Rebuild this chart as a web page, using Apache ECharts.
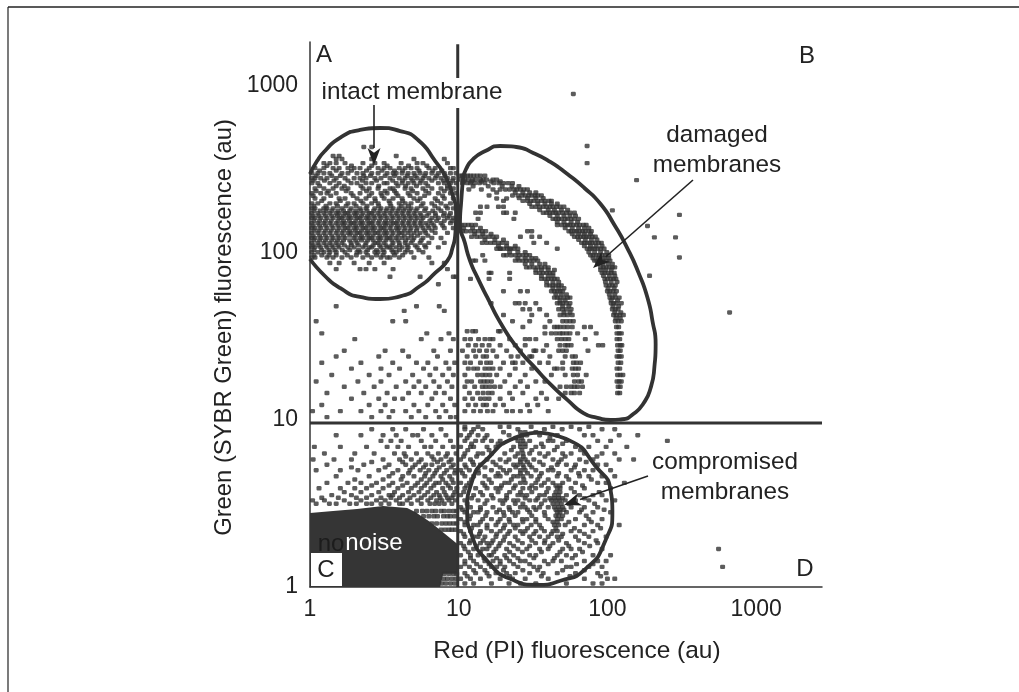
<!DOCTYPE html>
<html><head><meta charset="utf-8">
<style>html,body{margin:0;padding:0;background:#fff}#c{width:1019px;height:692px}</style>
<script src="https://cdn.jsdelivr.net/npm/echarts@6/dist/echarts.min.js"></script>
</head><body><div id="c"></div>
<script>
// Tick labels and axis ranges
const tickLabels = [1, 10, 100, 1000];
const xMax = 2773, yMax = 1833;
// Gate outlines, in fluorescence units [red, green]
const intactGate = [[1,297],[1.115,355],[1.26,408],[1.59,489],[2.17,545],[2.96,560],[4.04,537],[5.33,475],[6.95,355],[8.1,289],[9.05,226],[9.6,171],[9.5,132],[9.05,106],[8.4,90],[6.95,76],[5.5,63.4],[4.04,55],[2.96,53],[2.17,54.5],[1.59,61.7],[1.26,72.8],[1,92]];
const damagedGate = [[10.7,281],[11.2,318],[12.5,365],[15.1,408],[19,437],[24.4,431],[31.7,397],[41.3,351],[53.8,297],[70,245],[89.7,197],[111.5,147],[136,107],[162,76],[186,54],[201,39],[211,28.5],[207,20.8],[195,15.5],[175,12.6],[150,10.9],[126,10.1],[105,10],[85.7,10.3],[69,11],[53.8,13.2],[41.3,16.4],[32.2,20.8],[24.8,27],[19.3,37.6],[15.6,54],[13.5,70],[11.9,90],[11,115],[10.2,149],[10.4,205],[10.7,281]];
const compromisedGate = [[33.8,8.4],[56.3,7.5],[83,5.3],[105,3.8],[108,2.85],[97,1.9],[71,1.28],[48.3,1.09],[33.8,1.03],[22.2,1.12],[15.6,1.43],[12.3,2.02],[11.4,2.85],[12.3,4.3],[16.3,6.1],[22.9,7.7],[33.8,8.4]];
// Threshold lines
const vGateLow = [[9.85,1],[9.85,738]];
const vGateHigh = [[9.85,1117],[9.85,1780]];
const hGate = [[1,9.6],[2773,9.6]];
// Solid noise block outline
const noiseOutline = [[1,2.77],[1.43,2.85],[2.07,2.93],[3.1,3.05],[4.5,2.97],[5.1,2.81],[6.43,2.45],[8.1,2.08],[9.8,1.81],[9.8,1.2],[7.87,1.2],[7.5,1],[1,1]];
// Events, one row per green level: [green, [red, red, ...]]
const intactRows = [
[431,[2.3,2.6]],[381,[3.8,1.43,1.57]],[365,[1.5,1.64,2.6,5,8]],
[345,[1.24,1.36,1.5,1.72,2.27,2.73,3.15,4.1,5.25,5.75,8.4]],
[322,[1.08,1.24,1.43,1.57,1.8,1.98,2.17,2.5,2.87,3.15,3.45,3.98,4.36,4.78,5.25,6.3,6.95,8.8,9.2]],
[300,[1.03,1.13,1.24,1.36,1.64,1.8,2.07,2.27,2.6,2.87,3.3,3.62,3.8,4.16,4.57,5,5.5,6,6.6,7.3,8,8.8,9.6]],
[280,[1.03,1.08,1.18,1.3,1.5,1.72,1.98,2.17,2.38,2.73,3,3.45,3.98,4.36,4.78,5.25,5.75,6.3,6.95,7.6,8.4,9.2]],
[262,[1.03,1.13,1.36,1.57,1.89,2.07,2.38,2.6,3.15,3.3,3.8,4.16,4.57,5,5.5,6,7.3,8,8.8,9.6]],
[243,[1.08,1.24,1.43,1.64,1.8,2.27,2.5,2.87,3.45,3.62,4.36,4.78,5.75,6.6,7.6,8.4,9.2]],
[228,[1.03,1.18,1.3,1.5,1.89,2.17,2.6,3,3.3,3.8,4.57,5.25,6.3,7.3,8.8,9.6]],
[212,[1.08,1.24,1.57,1.72,2.07,2.38,2.73,3.15,3.62,4.16,5,5.5,6.95,8,9.2]],
[198,[1.03,1.13,1.36,1.5,1.8,1.98,2.27,2.6,2.87,3.45,3.98,4.36,4.78,5.75,6.6,7.6,8.8]],
[185,[1.03,1.08,1.24,1.3,1.43,1.64,1.89,2.17,2.38,2.73,3,3.3,3.62,3.98,4.36,4.78,5.25,6,7.3,8.4,9.2]],
[173,[1.03,1.13,1.24,1.36,1.5,1.57,1.72,1.8,1.98,2.07,2.27,2.5,2.6,2.87,3.15,3.45,3.8,4.16,4.57,5,5.5,6.3,6.95,8,8.8]],
[162,[1.03,1.08,1.18,1.3,1.43,1.57,1.64,1.8,1.89,2.07,2.17,2.38,2.5,2.73,3,3.3,3.62,3.98,4.36,4.78,5.25,5.75,6.6,7.3,8.4,9.2]],
[151,[1.03,1.13,1.24,1.36,1.5,1.64,1.72,1.89,1.98,2.17,2.27,2.5,2.6,2.87,3.15,3.3,3.62,3.8,4.16,4.57,5,5.5,6,6.6,7.6,8.8,9.6]],
[141,[1.03,1.08,1.18,1.3,1.43,1.57,1.72,1.8,1.98,2.07,2.27,2.38,2.6,2.73,3,3.15,3.45,3.8,3.98,4.36,4.78,5.25,5.75,6.3,6.95,8,9.2]],
[132,[1.03,1.13,1.24,1.36,1.5,1.64,1.8,1.89,2.07,2.17,2.38,2.5,2.73,2.87,3.15,3.3,3.62,3.98,4.16,4.57,5,5.5,6,6.95,8.4]],
[123,[1.03,1.08,1.18,1.3,1.43,1.57,1.72,1.98,2.17,2.27,2.5,2.6,2.87,3,3.3,3.45,3.8,4.16,4.57,5,5.75,6.6,7.6]],
[115,[1.03,1.13,1.24,1.36,1.5,1.64,1.89,2.07,2.38,2.73,2.87,3.15,3.62,3.98,4.36,4.78,5.5,6.3,8]],
[108,[1.03,1.08,1.18,1.3,1.43,1.57,1.8,1.98,2.27,2.5,2.6,3,3.3,3.45,3.8,4.16,4.57,5.25,6,7.3]],
[101,[1.03,1.13,1.24,1.36,1.5,1.72,2.07,2.17,2.38,2.73,2.87,3.15,3.62,3.8,4.36,4.78,5.75]],
[94,[1.03,1.08,1.3,1.43,1.64,1.89,2.27,2.6,3,3.3,3.45,3.98,5,6.3]],
[87,[1.36,1.57,1.98,2.5,3.15,6.6,8]],
[80,[1.5,2.17,2.38,2.73,3.62,8.4]],
[72,[3.45,5.5,9.2,9.6]],[65,[7.3]]
];
const intactFillRows = [
[333,[1.3,1.9,2.6,3.3,4.6,6.1]],[311,[1.16,1.5,1.9,2.4,3.05,3.7,4.2,5.4,6.7,7.7]],[290,[1.1,1.4,1.6,2.3,2.55,3.2,3.7,4.5,5.1,5.9,7.1,8.1]],
[271,[1.05,1.25,1.45,1.8,2.25,2.8,3.6,4.2,4.9,5.6,6.6,7.9,9.1]],[252,[1.16,1.5,1.7,2.2,2.9,3.9,4.4,5.2,6.2,8.4]],[235,[1.1,1.33,1.75,2.4,3.2,3.7,4.9,6,8]],
[220,[1.05,1.38,1.95,2.5,3.05,3.9,4.7,5.9,7.8]],[205,[1.2,1.6,2.2,2.75,3.4,4.2,5.3,7.2]],[191,[1.06,1.28,1.53,1.75,2.04,2.42,2.9,3.5,4.1,4.6,5.6,6.9,8.2]],
[179,[1.06,1.17,1.28,1.4,1.54,1.68,1.85,2.03,2.2,2.42,2.68,2.95,3.25,3.55,3.9,4.25,4.66,5.15,5.9,6.7,7.6]],
[167,[1.05,1.15,1.27,1.4,1.53,1.68,1.84,2.02,2.22,2.44,2.68,2.94,3.2,3.55,3.88,4.25,4.66,5.1,5.6,6.1,7,7.9,8.6]],
[156,[1.06,1.16,1.27,1.39,1.54,1.68,1.84,2.03,2.22,2.44,2.66,2.93,3.22,3.52,3.88,4.25,4.66,5.1,5.6,6.4,7.1,8,9]],
[146,[1.05,1.16,1.27,1.4,1.54,1.68,1.85,2.03,2.22,2.44,2.66,2.94,3.22,3.52,3.88,4.25,4.66,5.1,5.6,6.2,6.8,7.8]],
[136,[1.06,1.15,1.27,1.39,1.53,1.68,1.85,2.02,2.22,2.44,2.66,2.94,3.22,3.54,3.88,4.3,4.7,5.2,5.9,6.6]],
[127,[1.05,1.16,1.27,1.4,1.54,1.68,1.85,2.02,2.22,2.44,2.66,2.95,3.22,3.55,3.9,4.3,4.8,5.3,6.2]],
[119,[1.06,1.16,1.27,1.4,1.53,1.68,1.85,2.03,2.22,2.44,2.66,2.94,3.24,3.55,3.9,4.4,4.9,5.6]],
[111,[1.05,1.15,1.28,1.4,1.54,1.7,1.9,2.12,2.35,2.66,2.94,3.24,3.55,4,4.5,5.1,5.9]],
[104,[1.06,1.2,1.34,1.47,1.65,1.85,2.12,2.44,2.8,3.1,3.55,4,4.5,5.4]],[97,[1.06,1.2,1.34,1.5,1.78,2.05,2.44,2.8,3.1,3.7,4.2]]
];
const upperArcRows = [
[290,[10.2,10.6,11,11.5,12,12.6,13.3,14,15]],[275,[10.3,11,11.6,12.4,13,14,14.6,15.4,17,18]],
[262,[10.6,11.4,12,12.8,13.8,15,17.2,18.6,20,21.5,23]],[240,[11.7,14.2,17,19,20.6,22,23.6,24.6,26,27.4,29]],
[221,[16,23,25,26.6,28,29.6,31,32.6,34,36]],[205,[20,27,29,30.5,32,34,36,38,40.5,42]],
[189,[31,33,35,37,39,41,43,45.5,48,51]],[174,[37,39,41,43,45,47,50,53,56,60]],
[160,[43,45,47,49,52,54,57,60,64]],[147,[46,49,52,54,56,59,62,65,69,72]],
[135,[55,57,60,62,65,68,71,75,78]],[125,[60,63,66,69,72,75,79,83]],
[115,[67,70,73,76,79,83,87,91]],[106,[73,76,79,82,86,90,95]],
[97,[77,80,84,88,92,97,102]],[90,[82,85,89,93,98,104]],
[82,[90,94,98,103,108,112]],[76,[92,96,101,106,111]],[70,[96,100,105,110,114]],[64,[98,103,108,113]],
[59,[100,104,109,115]],[54,[104,108,113,120]],[50,[106,110,115,124]],[46,[108,113,118]],
[42.5,[110,115,121,128]],[39,[113,118,124]],[36,[115,119]],[33,[116,120,124]],[30.5,[116,121]],[28,[117,122,125]],
[26,[118,122]],[24,[116,120,124]],[22,[118,123]],[20.3,[116,121]],[18.6,[117,122,127]],[17,[116,120,124]],[15.8,[118,122]],[14.5,[117,121]]
];
const upperArcFillRows = [
[268,[10.8,12.2,14.2,16.5,19]],[251,[12.5,15.8,19.6,22.8,25.4]],[230,[18,24,27,30,33]],[213,[25.5,29,33,37]],[197,[30,34,38,42,46]],
[181,[35,40,44,49,54]],[167,[41,46,51,56,61]],[153,[46,51,57,63]],[141,[52,58,64,70,75]],[130,[58,64,70,77]],[120,[64,71,78,85]],
[110,[70,77,84,92]],[101,[75,82,90,99]],[93,[80,87,95,102]],[86,[86,93,101,108]],[79,[90,97,106]],[73,[94,103,112]],[67,[97,106,116]],
[61.5,[101,111]],[56.5,[103,112]],[52,[106,117]],[48,[109,119]],[44,[112,123]],[40.7,[114,122]]
];
const lowerArcRows = [
[147,[10.4,11,11.6,12.2,13]],[135,[10.6,11.2,12,12.8,13.6,14.4,15.2]],[125,[12.2,13.2,14,15,16,17,18]],
[115,[14.4,15.4,16.4,17.4,18.6,19.6,21]],[106,[18,19,20,21.2,22.4,23.6,25]],[97,[21,22.5,24,25.5,27,28.5,30]],
[90,[24,25.5,27,28.5,30,32,34]],[82,[28.5,30,32,34,36,38,40]],[76,[33,35,37,39,41,43]],[70,[36,38,40,42,44,46]],
[64,[39,41,43,45,47,49]],[59,[42,44,46,48,50]],[54,[44,46,48,51,54,56]],[50,[46,48,50,53,56]],
[46,[47,50,53,57]],[42.5,[48,51,54,58]],[39,[50,53,56,59]],[36,[46,48,51,54,58]],[33,[45,48,50,53,56]],[30.5,[46,49,52,55]],
[28,[48,52,54,57]],[26,[50,53]],[24,[58,61]],[22,[59,62,66]],[20.3,[58,61,64]],[18.6,[59,63]],[17,[60,64,67]],[15.8,[57,60,63,68]],[14.5,[60,65]]
];
const lowerArcFillRows = [
[141,[10.8,12.4,14]],[130,[12.8,14.5,16.5]],[120,[15,17.5,20]],[110,[18.5,21,24]],[101,[22,25,28]],[93,[25,28,31,33]],[86,[28,31,35,38]],
[79,[33,36,40,44]],[73,[36,40,43]],[67,[39,43,47]],[61.5,[43,47,51]],[56.5,[45,49,53]],[52,[48,52]],[48,[50,55]],[44,[51,56]]
];
const bInnerRows = [
[212,[18,21]],[189,[14,15.5,18.5,20]],[174,[13,14,20,21,24]],[160,[13.5,23.5]],[135,[29,31]],[125,[26,31,35]],[115,[32,39]],
[106,[19,22,46]],[97,[14.5,20]],[90,[12.5,13,15]],[76,[16,16.5,22]],[70,[12,16,22]],[59,[20,26,29]],[50,[16.5,24,25.5,28,33]],
[46,[27,30,35]],[42.5,[20,31,39]],[39,[23,30,41]],[36,[27,38,44,70,77]],[33,[38,42,63,84]],[30.5,[28,33,71]],
[28,[39,87,93]],[26,[33,37,47,74]],[24,[31,41,52]],[22,[24,40,50]],[20.3,[44,46,50]],[18.6,[42,52,72]],[15.8,[48,53]],[14.5,[52,57]],[13.4,[47]]
];
const outsideRows = [
[895,[59]],[437,[73]],[345,[73]],[273,[157]],[180,[108]],[169,[305]],[145,[186]],[124,[207,287]],[94,[305]],[73,[192]],[44,[663]]
];
const lowMidRows = [
[34,[11.4,12.4,13,18.5,19]],[30.5,[11,12,13.6,15,16.2,17,22,30]],[28,[11.6,13,14.4,16,19,24,28]],
[26,[10.6,12.6,13.8,15.4,17,21,26,32]],[24,[11.4,13,14.6,15.4,18,22.5,25,30]],[22,[11,12,14,15.4,16.4,20,23,27,35]],
[20.3,[11.6,12.6,13.4,15,16,17,19,24,31]],[18.6,[11,13.4,14.4,15.2,16.2,18,22,28]],[17,[11.4,12.2,14,14.8,15.6,16.6,20.4,26,33,38]],
[15.8,[11,12.8,14.4,15.2,16.2,17.4,19,24,29]],[14.5,[11.8,13.4,14.6,15.8,16.8,22,27,36]],[13.4,[11,12.4,14,15,16,19,23,33,39]],
[12.3,[11.6,13,14.6,15.4,17.6,20,29,34]],[11.3,[11,12.6,14,15.6,17,21,23,26,30,40]]
];
const aLowRows = [
[48,[1.5,5.2,7.4]],[45,[4.3,8]],[39,[1.1,3.6,4.4]],[33,[1.2,6.1,8.6]],[30.5,[2,5.6,7.6,9.2]],[26,[1.7,3.2,4.2,6.8,8.8]],
[24,[1.5,2.9,4.6,7.2]],[22,[1.2,2.2,3.6,5.2,6.2,8.2,9.4]],[20.3,[1.9,3,4,5.8,7,8.6]],[18.6,[1.4,2.5,3.4,4.9,6.4,7.8,9.2]],
[17,[1.1,2.1,3,4.4,5.4,6.8,8.4]],[15.8,[1.7,2.7,3.8,5,6,7.4,9]],[14.5,[1.3,2.3,3.3,4.6,5.6,7,8]],[13.4,[1.9,2.9,3.7,4.2,6.6,8.8]],
[12.3,[1.2,2.5,3.2,5,6.2,7.8,9.4]],[11.3,[1.04,1.6,2.2,3,3.6,4.4,5.4,7,8.2]],[10.4,[1.3,2.6,3.4,4.8,6,7.4,8.8,9.6]]
];
const cRows = [
[8.8,[2.6,3.6,4.4,5.8,7.6]],[8.1,[1.5,2.2,3.1,3.8,4.9,5.3,6.6,8.2]],[7.5,[3,3.5,4.1,5.6,7,8.8]],
[6.9,[1.07,1.6,2.4,3.3,3.9,4.6,5.9,6.5,7.8,9.2]],[6.3,[1.25,2,2.7,3.7,4.3,5.2,6.2,7.3,8.4,9.6]],[5.8,[1.05,1.45,1.9,3.1,4,4.8,5.6,6.8,7.6,8.9]],
[5.4,[1.3,2.3,3.4,4.4,5.1,6,6.6,7.9,9.2]],[5,[1.1,1.6,2.1,2.9,3.9,4.7,5.5,6.3,7.1,8.3,9.5]],[4.6,[1.5,2.5,3.4,4.2,5,5.9,6.7,7.6,8.7]],
[4.2,[1.3,1.8,2.2,2.8,3.6,4.5,5.3,6.1,7,7.4,8.2,9.2]],[3.9,[1.15,1.6,2,2.4,3.1,3.9,4.8,5.6,6.5,7.8,8.8,9.7]],[3.55,[1.4,1.9,2.6,3.4,3.6,4.2,5,5.9,6.8,7.4,8.2,9.2]],
[3.3,[1.04,1.25,1.7,2.2,2.8,3.2,3.8,4.5,5.3,6.2,7.1,7.7,8.6,9.5]],[3.15,[1.1,1.35,1.5,1.85,2.05,2.4,2.6,3,3.4,4,4.2,4.8,5.6,6.4,6.9,7.4,8,9]],
[2.85,[5.2,5.7,6.1,6.6,7,7.6,8,8.6,9.2,9.7]],[2.65,[5.8,6.3,6.8,7.2,7.9,8.4,8.8,9.4]],[2.4,[6.6,7.1,7.7,8.2,8.7,9.2,9.7]],[2.2,[7.6,8.1,8.6,9,9.5]],
[1.2,[8,8.6,9.2,9.7]],[1.12,[7.9,8.4,9,9.6]],[1.05,[7.7,8.2,8.8,9.4]]
];
const cFillRows = [
[6.05,[4.4,6.6,8.2]],[5.6,[2.6,4.2,5.4,7.2,8.6]],[5.2,[1.9,3.2,4.9,5.8,7.4,8.9]],[4.8,[3.6,4.6,6,6.9,8,9.4]],[4.4,[2,3.1,4.1,5.6,6.4,7.8,9]],
[4.05,[2.6,3.4,4.2,5.1,5.9,6.8,8.5]],[3.7,[1.7,2.2,2.9,3.7,4.6,5.4,6.2,7.1,8,9.4]],[3.42,[1.2,1.55,2.05,2.4,3,3.5,4,4.7,5.6,6.5,7.5,8.4,9]]
];
const dRows = [
[9.1,[11,13.5,19,21.8,30.7,43,57,75]],[8.8,[11,12.6,14.5,25,37.7,49.6,65,92,112]],[8.1,[10.3,11.8,13.5,15.5,21.8,26.8,28.7,35,46,70,80,120,160]],
[7.5,[11,13,14.5,16.6,19,25,27,30,40,43,53,86,105,253]],[6.9,[10.3,12,12.6,15.5,17.8,23.4,26,28,33,37,46,61,75,98,135]],[6.3,[11,13.5,14.5,16.6,20.4,25,27,30,35,40,50,57,70,92,112]],
[5.8,[10.3,12,15.5,19,21.8,26,28,32,43,49,65,80,120,150]],[5.4,[11,12.6,14,17.8,23.4,25,27,30,37,46,53,61,86,98]],[5,[10.3,11.8,13.5,16.6,20,22,26,28,33,40,43,57,70,80,105]],
[4.6,[11,12.6,15,17.8,19,23.4,25,27,30.7,35,46,53,65,75,92,112]],[4.2,[10.3,11.8,14.5,16.6,20.4,21.8,26,28,33,37.7,43,50,61,86,98,130]],[3.9,[11,13,15.5,17.8,19,23.4,27,30,32.9,40,46,48,57,70,105]],
[3.55,[10.3,12.6,14.5,16.6,21,25,26.8,28.7,35,37.7,44,47,53,65,80,92]],[3.3,[11,13.5,15.5,19,20.4,23.4,25,30,33,38,42,45,48,52,61,75,98,112]],[3,[10.3,12,14,17,21.8,26,28,32,35,40,44,47,50,57,70,86]],
[2.8,[11,12.6,13.5,15.5,18,20,23,25,30,37.7,46,48,53,65,80,105]],[2.55,[10.3,11.8,14.5,16.6,19,21.8,26.8,28.7,33,40,46,49,61,75,92]],[2.35,[11,12.6,13.5,15.5,17.8,20.4,23.4,25,30.7,35,44,47,52,70,86,120]],
[2.16,[10.3,12,14,16.6,19,22,26,28,33,37.7,43,46,57,65,80]],[2,[11,12.6,13.5,15,17.8,20.4,24,30,35,40,46,49,61,75,98]],[1.83,[10.3,11.8,14,15.5,16.6,19,22,26.8,32.9,37.7,43,53,70,86]],
[1.69,[11,12.6,14.5,15.5,17.8,21,25,28.7,35,40,50,57,65,92,559]],[1.55,[10.3,12,13.5,16,16.6,20.4,23.4,30,33,46,53,61,80,105]],[1.43,[11,12.6,15,17,19,22,26,28,37.7,43,49,70,86,98]],
[1.32,[10.3,11.8,14,16.6,18,20.4,25,32,35,53,57,75,92,595]],[1.21,[11,13,15.5,17.8,21,24,30,37,46,61,86,98]],[1.12,[10.3,12,14,19,23,28,40,70,100,112]],[1.05,[11,12.6,16.6,21.8,26,33,53,80,92]]
];
const dFillRows = [
[8.45,[12.2,20,26,28,33]],[7.8,[11.4,15,24.2,26.5,41]],[7.2,[12.2,18.4,26,28,36,50]],[6.6,[11.5,16,22.6,26.6,31,44,66]],[6.05,[10.8,13.2,24,27.2,38,52,85]],
[5.6,[12.4,17,20.8,26,29,35,47,72]],[5.2,[11.2,15,19,24.2,27.4,31,42,60]],[4.8,[10.6,13.6,18.4,21,26,29,36,47,64]],[4.4,[12.2,16,22.6,27.4,34,40,55,78]],
[4.05,[11.3,15,19.4,24,31,36,45,48,68]],[3.7,[10.8,14,18.4,22,26,31,39,45,48,60,88]],[3.4,[12.2,17,21,28,34,41,44,47,50,70]],[3.15,[11.4,15,19.8,24,27,36,43,46,49,55,82]],
[2.9,[10.6,14,18.8,22,29,33,45,48,51,67,95]],[2.67,[12,15.2,20.2,24,31,38,45,47,50,72]],[2.45,[11,14,18.4,22,27,33,43,46,55,78]],[2.25,[12.2,15.5,20,24,29,36,45,60,90]],
[2.08,[10.8,13.8,18,21.4,27,32,42,50,70]],[1.9,[12,14.6,17,20,25,31,38,47,64,84]],[1.76,[10.8,13.2,16,18.6,23.4,30,41,55,76]],[1.62,[11.6,14,17.2,22,26.8,36,48,68]],
[1.49,[12,14.8,18,21,25,32,44,58]],[1.37,[11,13.2,16,19,23.4,30,40,62,80]],[1.26,[12.6,15,20,27,34,50,70]],[1.16,[11.4,16,22,36,56,90]]
];

const flatten = rows => rows.flatMap(([green, reds]) => reds.map(red => [red, green]));
const ink = '#333';
const dots = (name, rows) => ({name, type:'scatter', data:flatten(rows), symbol:'roundRect', symbolSize:[5,4.4], itemStyle:{color:ink}, silent:true, z:2, large:false});
const stroke = (name, data, width, smooth) => ({name, type:'line', data, symbol:'none', smooth:smooth||false, lineStyle:{color:ink, width}, silent:true, z:3});

const chart = echarts.init(document.getElementById('c'), null, {renderer:'canvas'});
const axisBase = {
  type:'log', logBase:10, min:1, nameLocation:'middle',
  axisLine:{show:true, onZero:false, lineStyle:{color:'#333', width:1.5}},
  axisTick:{show:false}, splitLine:{show:false}, minorSplitLine:{show:false},
};
const labelOf = v => tickLabels.includes(Math.round(v)) && Math.abs(Math.round(v)-v)<1e-6 ? String(Math.round(v)) : '';
chart.setOption({
  animation:false, backgroundColor:'#fff',
  grid:{left:310, top:42, width:512, height:545, containLabel:false},
  xAxis:Object.assign({}, axisBase, {max:xMax, name:'Red (PI) fluorescence (au)', nameGap:52,
    nameTextStyle:{color:'#222', fontSize:24.5, fontFamily:'Liberation Sans', padding:[0,0,0,22]},
    axisLabel:{color:'#222', fontSize:23, fontFamily:'Liberation Sans', margin:11, formatter:labelOf, showMaxLabel:false}}),
  yAxis:Object.assign({}, axisBase, {max:yMax, name:'Green (SYBR Green) fluorescence (au)', nameGap:74,
    nameTextStyle:{color:'#222', fontSize:23.8, fontFamily:'Liberation Sans', padding:[0,26,0,0]},
    axisLabel:{color:'#222', fontSize:23, fontFamily:'Liberation Sans', margin:12, formatter:labelOf, showMaxLabel:false}}),
  series:[
    {name:'noise', type:'custom', data:[0], silent:true, z:1, clip:true,
      renderItem:(p, api) => ({type:'polygon', shape:{points:noiseOutline.map(v => api.coord(v))}, style:{fill:'#353535'}})},
    dots('intact', intactRows), dots('intact fill', intactFillRows), dots('upper arc', upperArcRows), dots('upper arc fill', upperArcFillRows),
    dots('lower arc', lowerArcRows), dots('lower arc fill', lowerArcFillRows), dots('inside B', bInnerRows),
    dots('outside B', outsideRows), dots('low mid', lowMidRows), dots('A low', aLowRows), dots('C', cRows), dots('C fill', cFillRows), dots('D', dRows), dots('D fill', dFillRows),
    stroke('intact gate', intactGate, 3.8, 0.6), stroke('damaged gate', damagedGate, 3.8, 0.6), stroke('compromised gate', compromisedGate, 3.8, 0.6),
    stroke('v low', vGateLow, 3), stroke('v high', vGateHigh, 3), stroke('h', hGate, 3),
  ],
  graphic:[
    {type:'line', shape:{x1:8,y1:7,x2:1019,y2:7}, style:{stroke:'#222',lineWidth:1.5}},
    {type:'line', shape:{x1:8,y1:7,x2:8,y2:692}, style:{stroke:'#222',lineWidth:1.2}},
    {type:'rect', shape:{x:311,y:553,width:31,height:33}, style:{fill:'#fff'}, z:10},
    ...[['A',324,55],['B',807,56],['C',326,570],['D',805,569]].map(([t,x,y])=>({type:'text',x,y,z:11,style:{text:t,fill:'#222',font:'24px "Liberation Sans"',align:'center',verticalAlign:'middle'}})),
    {type:'text',x:412,y:92,z:11,style:{text:'intact membrane',fill:'#222',font:'24.3px "Liberation Sans"',align:'center',verticalAlign:'middle'}},
    {type:'text',x:717,y:150,z:11,style:{text:'damaged\nmembranes',fill:'#222',font:'24.3px "Liberation Sans"',lineHeight:30,align:'center',verticalAlign:'middle'}},
    {type:'text',x:725,y:477,z:11,style:{text:'compromised\nmembranes',fill:'#222',font:'24.3px "Liberation Sans"',lineHeight:30,align:'center',verticalAlign:'middle'}},
    {type:'text',x:331,y:544,z:11,style:{text:'no',fill:'#1c1c1c',font:'24px "Liberation Sans"',align:'center',verticalAlign:'middle'}},
    {type:'text',x:374,y:543,z:11,style:{text:'noise',fill:'#fff',font:'24px "Liberation Sans"',align:'center',verticalAlign:'middle'}},
    ...[[374,105,374,165],[693,180,593,268],[648,476,564,505]].flatMap(([a,b,c,d])=>{
      const ang=Math.atan2(d-b,c-a), L=17, W=6.5, cx=c-L*Math.cos(ang), cy=d-L*Math.sin(ang), nx=-Math.sin(ang), ny=Math.cos(ang);
      return [{type:'line',z:12,shape:{x1:a,y1:b,x2:cx,y2:cy},style:{stroke:'#222',lineWidth:1.6}},
        {type:'polygon',z:12,shape:{points:[[c,d],[cx+nx*W,cy+ny*W],[c-L*0.72*Math.cos(ang),d-L*0.72*Math.sin(ang)],[cx-nx*W,cy-ny*W]]},style:{fill:'#222'}}];
    }),
  ]
});
</script></body></html>
